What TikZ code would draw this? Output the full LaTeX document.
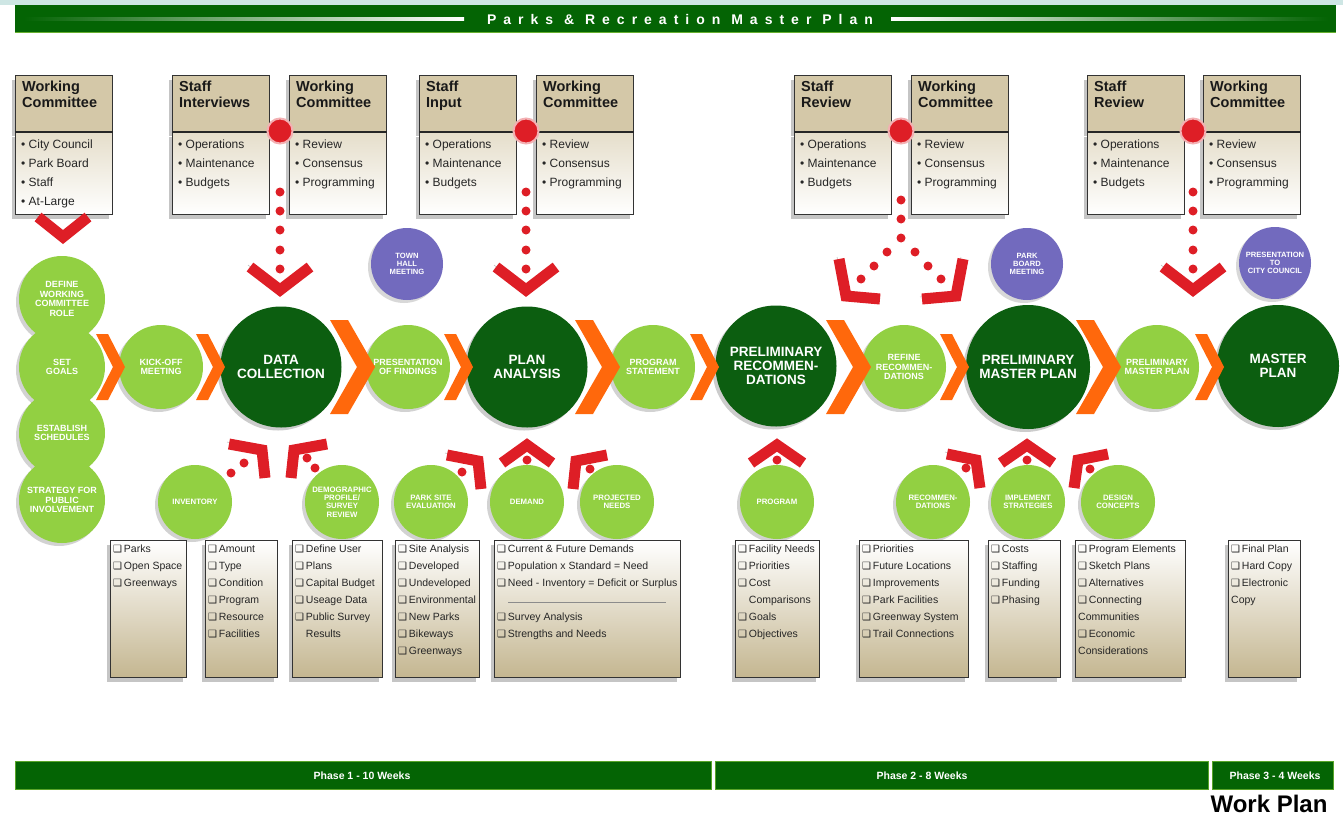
\documentclass[tikz,border=0pt]{standalone}
\usepackage{fontspec}
\setmainfont{Liberation Sans}
\newfontfamily\boxglyphs{DejaVu Sans}
\newfontfamily\spacedfont[LetterSpace=50]{Liberation Sans}
\usetikzlibrary{positioning, shadows}

\definecolor{bargreen}{RGB}{4,100,4}
\definecolor{stagegreen}{RGB}{12,94,16}
\definecolor{taskgreen}{RGB}{146,208,66}
\definecolor{meetpurple}{RGB}{114,106,190}
\definecolor{chevorange}{RGB}{255,104,12}
\definecolor{chevred}{RGB}{222,30,38}
\definecolor{boxtan}{RGB}{212,200,168}
\definecolor{notetan}{RGB}{196,182,144}
\definecolor{topcyan}{RGB}{206,230,228}

\newcommand\chk{{\boxglyphs\fontsize{10}{10}\selectfont\symbol{"2751}}\,}
\newcommand\bul{\textbullet\ }

\newcommand\topbox[4]{%
  \node[hdrbox] (#1) at (#2,75) {};
  \node[bodybox, below=0pt of #1] (#1-b) {};
  \draw[line width=2.2pt, black!85] (#1.south west) -- (#1.south east);
  \node[hdrtext] (#1-h) at (#1.north west) {#3};
  \node[bultext] (#1-t) at (#1-b.north west) {#4};
}
\newcommand\checklist[4]{%
  \node[notebox, minimum width=#3pt] (#1) at (#2,540) {};
  \node[notetext] (#1-t) at (#1.north west) {#4};
}
\newcommand\orchev[4]{%
  \fill[chevorange] ({#1-#3-#4},{367-#2}) -- ({#1-#3},{367-#2}) -- (#1,367)
    -- ({#1-#3},{367+#2}) -- ({#1-#3-#4},{367+#2}) -- ({#1-#4},367) -- cycle;
}

\begin{document}
\begin{tikzpicture}[x=1pt, y=-1pt,
    stagec/.style={circle, fill=stagegreen, minimum size=121pt, inner sep=0pt, align=center, text=white,
      font=\bfseries\fontsize{13.5}{14}\selectfont, drop shadow={shadow xshift=-3pt, shadow yshift=-3pt, opacity=.4}},
    taskc/.style={circle, fill=taskgreen, minimum size=84pt, inner sep=0pt, align=center, text=white,
      font=\bfseries\fontsize{9}{9.5}\selectfont, drop shadow={shadow xshift=-3pt, shadow yshift=-3pt, opacity=.35}},
    feedc/.style={taskc, minimum size=74pt, font=\bfseries\fontsize{7.8}{8.4}\selectfont},
    meetc/.style={circle, fill=meetpurple, minimum size=72pt, inner sep=0pt, align=center, text=white,
      font=\bfseries\fontsize{7.6}{8.3}\selectfont, drop shadow={shadow xshift=-3pt, shadow yshift=-3pt, opacity=.3}},
    hdrbox/.style={anchor=north west, draw=black!80, line width=1.2pt, fill=boxtan, minimum width=97pt, minimum height=56pt,
      drop shadow={shadow xshift=-4pt, shadow yshift=-4pt, opacity=.45}},
    bodybox/.style={draw=black!80, line width=1.2pt, top color=boxtan!60!white, bottom color=white, minimum width=97pt,
      minimum height=82pt, drop shadow={shadow xshift=-4pt, shadow yshift=-4pt, opacity=.45}},
    hdrtext/.style={anchor=north west, inner xsep=7pt, inner ysep=6pt, align=left, text=black!90,
      font=\bfseries\fontsize{14.5}{16}\selectfont},
    bultext/.style={anchor=north west, inner xsep=6pt, inner ysep=7pt, align=left, text=black!85,
      font=\fontsize{12}{19}\selectfont},
    notebox/.style={anchor=north west, draw=black!80, line width=1.2pt, top color=white, bottom color=notetan,
      minimum height=137pt, drop shadow={shadow xshift=-4pt, shadow yshift=-4pt, opacity=.45}},
    notetext/.style={anchor=north west, inner xsep=3pt, inner ysep=5pt, align=left, text=black!85,
      font=\fontsize{10.5}{17}\selectfont},
    redv/.style={draw=chevred, line width=11pt, preaction={draw=black!35, transform canvas={shift={(-2pt,2pt)}}}},
    reddot/.style={fill=chevred},
    jdot/.style={circle, fill=chevred, draw=chevred!35, line width=2pt, minimum size=25pt, inner sep=0pt},
    phasebar/.style={fill=bargreen, draw=taskgreen!60!bargreen, line width=1pt, minimum height=28pt},
    phasetext/.style={text=white, font=\bfseries\fontsize{10.5}{12}\selectfont}
]
\path[use as bounding box, fill=white] (0,0) rectangle (1343,819);

% banner
\fill[topcyan] (0,0) rectangle (1343,5);
\fill[bargreen] (15,5) rectangle (1336,33);
\fill[taskgreen!70!bargreen] (15,31.5) rectangle (1336,33);
\shade[left color=bargreen, right color=white] (24,17.5) rectangle (464,20.5);
\shade[left color=white, right color=bargreen] (891,17.5) rectangle (1328,20.5);
\node[text=white, font=\spacedfont\bfseries\fontsize{14}{14}\selectfont] (title) at (680,19) {Parks \& Recreation Master Plan};

% committee and staff boxes
\topbox{wc1}{15}{Working\\Committee}{\bul City Council\\\bul Park Board\\\bul Staff\\\bul At-Large}
\topbox{si}{172}{Staff\\Interviews}{\bul Operations\\\bul Maintenance\\\bul Budgets}
\topbox{wc2}{289}{Working\\Committee}{\bul Review\\\bul Consensus\\\bul Programming}
\topbox{sn}{419}{Staff\\Input}{\bul Operations\\\bul Maintenance\\\bul Budgets}
\topbox{wc3}{536}{Working\\Committee}{\bul Review\\\bul Consensus\\\bul Programming}
\topbox{sr1}{794}{Staff\\Review}{\bul Operations\\\bul Maintenance\\\bul Budgets}
\topbox{wc4}{911}{Working\\Committee}{\bul Review\\\bul Consensus\\\bul Programming}
\topbox{sr2}{1087}{Staff\\Review}{\bul Operations\\\bul Maintenance\\\bul Budgets}
\topbox{wc5}{1203}{Working\\Committee}{\bul Review\\\bul Consensus\\\bul Programming}

\draw[redv] (38,217) -- (63,237) -- (88,217);
\foreach \x/\n in {280/1, 526/2, 1193/4} {
  \foreach \y in {192,211,230,250,269}
    \fill[reddot] (\x,\y) circle (4.5);
  \draw[redv] (\x-30,267) -- (\x,290) -- (\x+30,267);
  \node[jdot] (j\n) at (\x,131) {};
}
\foreach \x/\y in {901/200, 901/219, 901/238, 887/252, 874/266, 861/279, 915/252, 928/266, 941/279}
  \fill[reddot] (\x,\y) circle (4.5);
\draw[redv] (839,259) -- (846,296) -- (880,299);
\draw[redv] (963,259) -- (956,296) -- (922,299);
\node[jdot] (j3) at (901,131) {};

% meetings
\node[meetc] (townhall) at (407,264) {TOWN\\HALL\\MEETING};
\node[meetc] (parkboard) at (1027,264) {PARK\\BOARD\\MEETING};
\node[meetc] (council) at (1275,263) {PRESENTATION\\TO\\CITY COUNCIL};

% main row
\node[taskc, minimum size=86pt] (define) at (62,299) {DEFINE\\WORKING\\COMMITTEE\\ROLE};
\node[taskc, minimum size=86pt] (goals) at (62,367) {SET\\GOALS};
\node[taskc, minimum size=86pt] (sched) at (62,433) {ESTABLISH\\SCHEDULES};
\node[taskc, minimum size=86pt] (strategy) at (62,500) {STRATEGY FOR\\PUBLIC\\INVOLVEMENT};
\node[taskc] (kickoff) at (161,367) {KICK-OFF\\MEETING};
\node[stagec] (datacol) at (281,367) {DATA\\COLLECTION};
\node[taskc] (present) at (408,367) {PRESENTATION\\OF FINDINGS};
\node[stagec] (planan) at (527,367) {PLAN\\ANALYSIS};
\node[taskc] (progst) at (653,367) {PROGRAM\\STATEMENT};
\node[stagec] (prelrec) at (776,366) {PRELIMINARY\\RECOMMEN-\\DATIONS};
\node[taskc] (refine) at (904,367) {REFINE\\RECOMMEN-\\DATIONS};
\node[stagec, minimum size=124pt] (prelmp) at (1028,367) {PRELIMINARY\\MASTER PLAN};
\node[taskc] (prelmp2) at (1157,367) {PRELIMINARY\\MASTER PLAN};
\node[stagec, minimum size=122pt] (master) at (1278,366) {MASTER\\PLAN};

\orchev{125}{33}{17}{12}
\orchev{225}{33}{17}{12}
\orchev{375}{47}{27}{18}
\orchev{473}{33}{17}{12}
\orchev{620}{47}{27}{18}
\orchev{719}{33}{17}{12}
\orchev{871}{47}{27}{18}
\orchev{969}{33}{17}{12}
\orchev{1121}{47}{27}{18}
\orchev{1224}{33}{17}{12}

% feeding studies
\draw[redv] (229,444) -- (262,450) -- (265,478);
\draw[redv] (327,444) -- (294,450) -- (291,478);
\draw[redv] (447,455) -- (478,461) -- (481,489);
\draw[redv] (502,463) -- (527,445) -- (552,463);
\draw[redv] (607,455) -- (576,461) -- (573,489);
\draw[redv] (751,463) -- (777,445) -- (803,463);
\draw[redv] (947,454) -- (976,460) -- (980,488);
\draw[redv] (1001,463) -- (1027,445) -- (1053,463);
\draw[redv] (1108,454) -- (1078,460) -- (1074,488);
\foreach \x/\y in {244/463, 231/473, 307/458, 315/468, 462/472, 527/460, 590/469, 777/460, 966/468, 1027/460, 1090/469}
  \fill[reddot] (\x,\y) circle (4.5);

\node[feedc] (inventory) at (195,502) {INVENTORY};
\node[feedc] (demog) at (342,502) {DEMOGRAPHIC\\PROFILE/\\SURVEY\\REVIEW};
\node[feedc] (parksite) at (431,502) {PARK SITE\\EVALUATION};
\node[feedc] (demand) at (527,502) {DEMAND};
\node[feedc] (projected) at (617,502) {PROJECTED\\NEEDS};
\node[feedc] (program) at (777,502) {PROGRAM};
\node[feedc] (recomm) at (933,502) {RECOMMEN-\\DATIONS};
\node[feedc] (implem) at (1028,502) {IMPLEMENT\\STRATEGIES};
\node[feedc] (design) at (1118,502) {DESIGN\\CONCEPTS};

% checklists
\checklist{n1}{110}{76}{\chk Parks\\\chk Open Space\\\chk Greenways}
\checklist{n2}{205}{72}{\chk Amount\\\chk Type\\\chk Condition\\\chk Program\\\chk Resource\\\chk Facilities}
\checklist{n3}{292}{90}{\chk Define User\\\chk Plans\\\chk Capital Budget\\\chk Useage Data\\\chk Public Survey\\\hphantom{\chk}Results}
\checklist{n4}{395}{84}{\chk Site Analysis\\\chk Developed\\\chk Undeveloped\\\chk Environmental\\\chk New Parks\\\chk Bikeways\\\chk Greenways}
\checklist{n5}{494}{186}{\chk Current \& Future Demands\\\chk Population x Standard = Need\\\chk Need - Inventory = Deficit or Surplus\\\mbox{}\\\chk Survey Analysis\\\chk Strengths and Needs}
\draw[black!45, line width=1pt] (508,602) -- (666,602);
\checklist{n6}{735}{84}{\chk Facility Needs\\\chk Priorities\\\chk Cost\\\hphantom{\chk}Comparisons\\\chk Goals\\\chk Objectives}
\checklist{n7}{859}{109}{\chk Priorities\\\chk Future Locations\\\chk Improvements\\\chk Park Facilities\\\chk Greenway System\\\chk Trail Connections}
\checklist{n8}{988}{72}{\chk Costs\\\chk Staffing\\\chk Funding\\\chk Phasing}
\checklist{n9}{1075}{110}{\chk Program Elements\\\chk Sketch Plans\\\chk Alternatives\\\chk Connecting\\Communities\\\chk Economic\\Considerations}
\checklist{n10}{1228}{72}{\chk Final Plan\\\chk Hard Copy\\\chk Electronic\\Copy}

% phases
\node[phasebar, minimum width=696pt] (ph1) at (363,775) {};
\node[phasebar, minimum width=493pt] (ph2) at (961.5,775) {};
\node[phasebar, minimum width=121pt] (ph3) at (1272.5,775) {};
\node[phasetext] (ph1-t) at (362,776) {Phase 1 - 10 Weeks};
\node[phasetext] (ph2-t) at (922,776) {Phase 2 - 8 Weeks};
\node[phasetext] (ph3-t) at (1275,776) {Phase 3 - 4 Weeks};
\node[anchor=east, font=\bfseries\fontsize{24}{24}\selectfont] (workplan) at (1331,804) {Work Plan};
\end{tikzpicture}
\end{document}
